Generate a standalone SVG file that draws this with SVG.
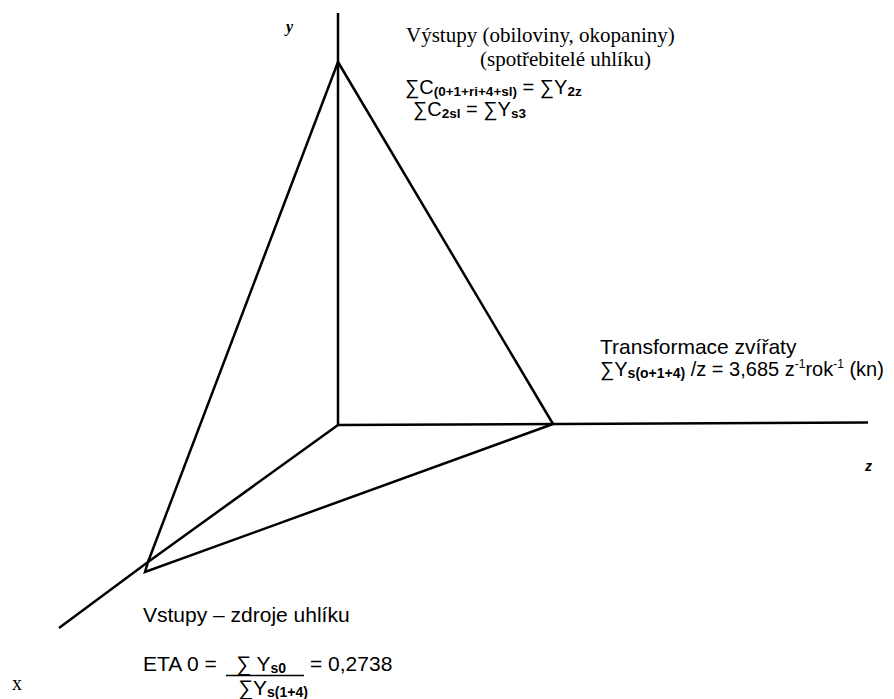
<svg xmlns="http://www.w3.org/2000/svg" width="894" height="699" viewBox="0 0 894 699">
<style>
.ln{stroke:#000;stroke-width:2.5;fill:none;stroke-linejoin:miter;stroke-linecap:butt}
.serif{font-family:"Liberation Serif","Times New Roman",serif;fill:#000}
.sans{font-family:"Liberation Sans",Arial,sans-serif;fill:#000}
.sub{font-weight:bold}
</style>
<rect width="894" height="699" fill="#fff"/>
<g id="connectors">
<line class="ln" x1="338" y1="13" x2="338" y2="425"/>
<line class="ln" x1="338" y1="425" x2="868" y2="422.5"/>
<polyline class="ln" points="338,425 148,562 59,628"/>
<line class="ln" x1="338" y1="62" x2="148" y2="562"/>
<line class="ln" x1="338" y1="62" x2="553" y2="424"/>
<polyline class="ln" points="148,562 145,572 553,424"/>
</g>
<g id="axis-y"><text class="serif" x="286" y="32" font-size="16" font-weight="bold" font-style="italic">y</text></g>
<g id="axis-z"><text class="sans" x="865" y="471" font-size="14" font-weight="bold" font-style="italic">z</text></g>
<g id="axis-x"><text class="serif" x="12" y="690" font-size="20">x</text></g>
<g id="outputs">
<text class="serif" x="406" y="42" font-size="21">Výstupy (obiloviny, okopaniny)</text>
<text class="serif" x="480" y="66" font-size="21">(spotřebitelé uhlíku)</text>
<text class="sans" x="405" y="94" font-size="20">∑C<tspan class="sub" font-size="13.5" dy="2">(0+1+ri+4+sl)</tspan><tspan dy="-2"> = ∑Y</tspan><tspan class="sub" font-size="13.5" dy="2">2z</tspan></text>
<text class="sans" x="413" y="116" font-size="20">∑C<tspan class="sub" font-size="13.5" dy="2">2sl</tspan><tspan dy="-2"> = ∑Y</tspan><tspan class="sub" font-size="13.5" dy="2">s3</tspan></text>
</g>
<g id="transformation">
<text class="sans" x="600" y="354" font-size="21">Transformace zvířaty</text>
<text class="sans" x="600" y="376" font-size="20">∑Y<tspan class="sub" font-size="14" dy="2">s(o+1+4)</tspan><tspan dy="-2"> /z = 3,685 z</tspan><tspan font-size="12" dy="-8">-1</tspan><tspan dy="8">rok</tspan><tspan font-size="12" dy="-8">-1</tspan><tspan dy="8"> (kn)</tspan></text>
</g>
<g id="inputs">
<text class="sans" x="143" y="622" font-size="21">Vstupy – zdroje uhlíku</text>
<text class="sans" x="143" y="671" font-size="21">ETA 0 = </text>
<text class="sans" x="236" y="671" font-size="21">∑ Y<tspan class="sub" font-size="14" dy="2">s0</tspan></text>
<line x1="226" y1="675.5" x2="304" y2="675.5" stroke="#000" stroke-width="1.5"/>
<text class="sans" x="310" y="671" font-size="21">= 0,2738</text>
<text class="sans" x="238" y="695" font-size="21">∑Y<tspan class="sub" font-size="14" dy="2">s(1+4)</tspan></text>
</g>
</svg>
